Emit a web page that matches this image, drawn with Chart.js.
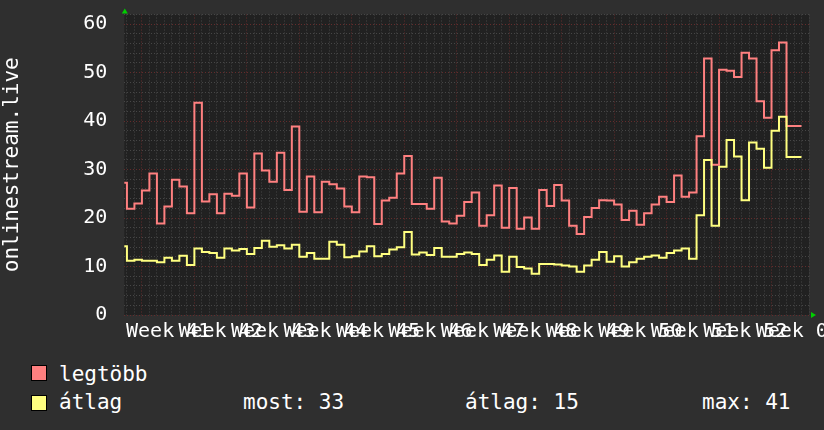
<!DOCTYPE html>
<html>
<head>
<meta charset="utf-8">
<script src="https://cdn.jsdelivr.net/npm/chart.js@4.4.1/dist/chart.umd.min.js"></script>
<style>
  body { margin: 0; background: #2f2f2f; }
  #wrap { position: relative; width: 824px; height: 430px; overflow: hidden; }
  #chart { position: absolute; left: 0; top: 0; }
  .lg { position: absolute; font: 21px "DejaVu Sans Mono", monospace; color: #fff; line-height: 28px; white-space: pre; }
  .sq { position: absolute; width: 14px; height: 14px; border: 1px solid #000; }
</style>
</head>
<body>
<div id="wrap">
  <canvas id="chart" width="824" height="350"></canvas>
  <div class="sq" style="left:31px;top:365px;background:#ff8080"></div>
  <div class="lg" style="left:59px;top:360px">legtöbb</div>
  <div class="sq" style="left:31px;top:395px;background:#ffff80"></div>
  <div class="lg" style="left:59px;top:388px">átlag</div>
  <div class="lg" id="most" style="left:243px;top:388px"></div>
  <div class="lg" id="atl" style="left:465px;top:388px"></div>
  <div class="lg" id="max" style="left:702px;top:388px"></div>
</div>
<script>
// napi értékek (egy pont = egy nap)
const legtobb = [
  23.7, 27.3, 21.9, 23.0, 25.7, 29.2, 18.9, 22.4, 27.9, 26.5,
  21.0, 43.8, 23.4, 24.9, 21.0, 25.0, 24.6, 29.2, 22.2, 33.3,
  29.8, 27.5, 33.5, 25.8, 38.9, 21.3, 28.6, 21.2, 27.5, 27.0,
  26.1, 22.4, 21.2, 28.6, 28.4, 18.8, 23.6, 24.2, 29.2, 32.8,
  22.9, 22.9, 21.9, 28.3, 19.3, 18.9, 20.5, 23.3, 25.3, 18.4,
  20.6, 26.7, 18.0, 26.2, 17.8, 20.1, 17.8, 25.8, 22.5, 26.8,
  23.6, 18.4, 16.7, 20.2, 22.1, 23.7, 23.6, 22.8, 19.6, 21.5,
  18.6, 21.0, 22.8, 24.4, 23.3, 28.8, 24.4, 25.3, 36.9, 52.9,
  31.0, 50.6, 50.4, 49.1, 54.1, 52.9, 44.1, 40.7, 54.6, 56.2,
  39.0
];
const atlag = [
  12.7, 14.2, 11.2, 11.4, 11.2, 11.2, 10.9, 11.8, 11.2, 12.2,
  10.3, 13.7, 13.0, 12.8, 11.8, 13.7, 13.3, 13.6, 12.6, 13.8,
  15.3, 14.1, 14.4, 13.7, 14.5, 12.0, 12.8, 11.6, 11.6, 15.1,
  14.5, 11.9, 12.1, 13.1, 14.2, 12.1, 12.6, 13.5, 14.0, 17.1,
  12.5, 12.9, 12.4, 13.8, 12.0, 12.0, 12.6, 12.9, 12.6, 10.3,
  11.4, 12.3, 8.9, 12.0, 9.9, 9.6, 8.5, 10.5, 10.5, 10.4,
  10.2, 10.0, 8.9, 10.2, 11.4, 13.0, 11.0, 12.1, 10.0, 10.9,
  11.6, 12.0, 12.3, 11.8, 12.8, 13.3, 13.7, 11.6, 20.6, 32.0,
  18.4, 30.6, 36.1, 32.7, 23.7, 35.6, 34.3, 30.4, 38.0, 40.9,
  32.6
];
const weekLabels = ["Week 41", "Week 42", "Week 43", "Week 44", "Week 45", "Week 46",
  "Week 47", "Week 48", "Week 49", "Week 50", "Week 51", "Week 52", "Week 01"];
const yLabels = [0, 10, 20, 30, 40, 50, 60];
const firstWeekDay = 2; // első hétfő indexe

const FONT = "DejaVu Sans Mono";
const MAJOR = "#642c2c";
const MINOR = "#464646";

// lépcsős vonal: az i. érték az (i-1 .. i) napot fedi
function toSteps(arr) {
  const pts = arr.map((v, i) => ({ x: i - 1, y: v }));
  pts.push({ x: arr.length - 1, y: arr[arr.length - 1] });
  return pts;
}

// GPRINT sor
const last = atlag[atlag.length - 1];
const avg = atlag.reduce((a, b) => a + b, 0) / atlag.length;
const mx = Math.max(...atlag);
document.getElementById("most").textContent = "most: " + last.toFixed(0);
document.getElementById("atl").textContent = "átlag: " + avg.toFixed(0);
document.getElementById("max").textContent = "max: " + mx.toFixed(0);

const rrdBack = {
  id: "rrdBack",
  beforeDraw(chart) {
    const { ctx, chartArea: a } = chart;
    ctx.save();
    ctx.fillStyle = "#212121";
    ctx.fillRect(a.left, a.top, a.right - a.left, a.bottom - a.top);
    ctx.restore();
  },
  afterDraw(chart) {
    const { ctx, chartArea: a } = chart;
    ctx.save();
    ctx.fillStyle = "#00d000";
    // felső nyíl
    ctx.beginPath();
    ctx.moveTo(a.left + 0.5, a.top - 6);
    ctx.lineTo(a.left - 2.5, a.top - 1);
    ctx.lineTo(a.left + 3.5, a.top - 1);
    ctx.closePath();
    ctx.fill();
    // jobb nyíl
    ctx.beginPath();
    ctx.moveTo(a.right + 7, a.bottom);
    ctx.lineTo(a.right + 2, a.bottom - 3);
    ctx.lineTo(a.right + 2, a.bottom + 3);
    ctx.closePath();
    ctx.fill();
    ctx.restore();
  }
};

new Chart(document.getElementById("chart"), {
  type: "line",
  data: {
    datasets: [
      {
        label: "átlag",
        data: toSteps(atlag),
        borderColor: "#ffff80",
        borderWidth: 2,
        stepped: "after",
        pointRadius: 0,
        fill: false,
      },
      {
        label: "legtöbb",
        data: toSteps(legtobb),
        borderColor: "#ff8080",
        borderWidth: 2,
        stepped: "after",
        pointRadius: 0,
        fill: false,
      },
    ],
  },
  options: {
    responsive: false,
    animation: false,
    layout: { padding: { top: 14.5, right: 15, left: 0, bottom: 0 } },
    plugins: { legend: { display: false }, tooltip: { enabled: false } },
    scales: {
      x: {
        type: "linear",
        min: -0.35,
        max: 91,
        afterBuildTicks: (scale) => {
          const t = [];
          for (let d = Math.ceil(scale.min); d <= Math.floor(scale.max); d++) t.push({ value: d });
          scale.ticks = t;
        },
        afterFit: (scale) => {
          scale.height = 35;
          scale.paddingLeft = 0;
          scale.paddingRight = 0;
        },
        border: { display: false, dash: [1, 2] },
        grid: {
          drawTicks: false,
          color: (ctx) => ((ctx.tick.value - firstWeekDay) % 7 === 0 ? MAJOR : MINOR),
        },
        ticks: {
          autoSkip: false,
          maxRotation: 0,
          minRotation: 0,
          padding: 5,
          labelOffset: 26.25,
          color: "#ffffff",
          font: { family: FONT, size: 20 },
          callback: (value) => {
            const k = (value - firstWeekDay) / 7;
            return Number.isInteger(k) && weekLabels[k] ? weekLabels[k] : "";
          },
        },
      },
      y: {
        min: 0,
        max: 62,
        afterBuildTicks: (scale) => {
          const t = [];
          for (let v = 0; v <= scale.max; v += 2) t.push({ value: v });
          scale.ticks = t;
        },
        afterFit: (scale) => {
          scale.width = 124.3;
          scale.paddingTop = 0;
          scale.paddingBottom = 0;
        },
        border: { display: false, dash: [1, 2] },
        grid: {
          drawTicks: false,
          color: (ctx) => (yLabels.includes(ctx.tick.value) ? MAJOR : MINOR),
        },
        title: {
          display: true,
          text: "onlinestream.live",
          color: "#ffffff",
          padding: 0,
          font: { family: FONT, size: 21 },
        },
        ticks: {
          autoSkip: false,
          padding: 17,
          color: "#ffffff",
          font: { family: FONT, size: 20 },
          callback: (v) => (yLabels.includes(v) ? String(v) : ""),
        },
      },
    },
  },
  plugins: [rrdBack],
});
</script>
</body>
</html>
